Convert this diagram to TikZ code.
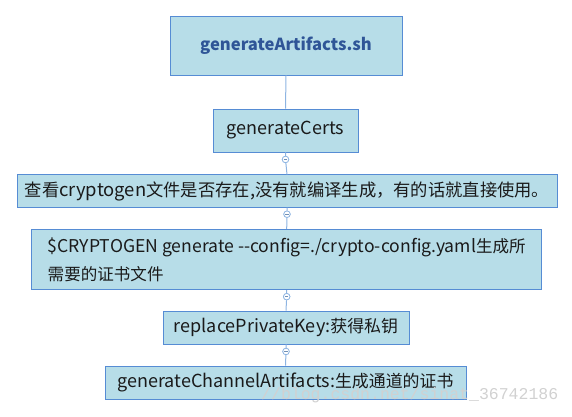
\documentclass[tikz,border=0pt]{standalone}
\usepackage{fontspec}
\setmainfont{Noto Sans CJK SC}
\newfontfamily\cjk[Scale=0.94]{Noto Sans CJK SC}
\newfontfamily\wmfont{Liberation Mono}
\newcommand\zh[1]{{\cjk #1}}
\definecolor{boxfill}{RGB}{183,221,232}
\definecolor{boxline}{RGB}{86,140,212}
\definecolor{conn}{RGB}{141,180,226}
\definecolor{titleblue}{RGB}{47,85,151}
\definecolor{bodytext}{RGB}{26,26,26}
\tikzset{
  box/.style={draw=boxline, fill=boxfill, line width=0.9pt, inner sep=0pt,
    text=bodytext, font=\fontsize{18}{28}\selectfont},
  conline/.style={draw=conn, line width=1pt},
  knob/.style={circle, draw=conn, fill=white, line width=0.7pt, inner sep=0pt,
    minimum size=6.5pt,
    path picture={\draw[conn!80!black, line width=0.5pt]
      ([xshift=-1.6pt]path picture bounding box.center) --
      ([xshift=1.6pt]path picture bounding box.center);}},
}
\begin{document}
\begin{tikzpicture}[x=1pt,y=-1pt]
\useasboundingbox (0,0) rectangle (572,416);
\node[box, minimum width=232pt, minimum height=59pt, text=titleblue,
  font=\fontsize{16.6}{22}\bfseries] (b1) at (286,45.5) {generateArtifacts.sh};
\node[box, minimum width=145pt, minimum height=43pt] (b2) at (285.5,130.5) {generateCerts};
\node[box, minimum width=540pt, minimum height=32.5pt, font=\fontsize{18.4}{24}\selectfont] (b3) at (287,191)
  {\zh{查看}cryptogen\zh{文件是否存在},\zh{没有就编译生成，有的话就直接使用。}};
\node[box, minimum width=510pt, minimum height=60.4pt, align=left,
  font=\fontsize{17.6}{28}\selectfont] (b4) at (286.7,259.5)
  {\$CRYPTOGEN generate -{}-config=./crypto-config.yaml\zh{生成所}\\\zh{需要的证书文件}};
\node[box, minimum width=246pt, minimum height=33pt] (b5) at (286,327.5)
  {replacePrivateKey:\zh{获得私钥}};
\node[box, minimum width=361pt, minimum height=33pt] (b6) at (285.5,382.5)
  {generateChannelArtifacts:\zh{生成通道的证书}};
\draw[conline] (b1.south) -- (b2.north);
\node[knob] (k2) at ([yshift=-7pt]b2.south) {};
\node[knob] (k3) at ([yshift=-6.5pt]b3.south) {};
\node[knob] (k4) at ([yshift=-6.5pt]b4.south) {};
\node[knob] (k5) at ([yshift=-7pt]b5.south) {};
\draw[conline] (b2.south) -- (k2) -- (b3.north);
\draw[conline] (b3.south) -- (k3) -- (b4.north);
\draw[conline] (b4.south) -- (k4) -- (b5.north);
\draw[conline] (b5.south) -- (k5) -- (b6.north);
\node[knob] at (k2) {};
\node[knob] at (k3) {};
\node[knob] at (k4) {};
\node[knob] at (k5) {};
\node[anchor=west, inner sep=0pt, text=black!18, font=\wmfont\fontsize{16.5}{18}\selectfont] (wm) at (261,395.5)
  {//blog.csdn.net/sinat\_36742186};
\end{tikzpicture}
\end{document}
